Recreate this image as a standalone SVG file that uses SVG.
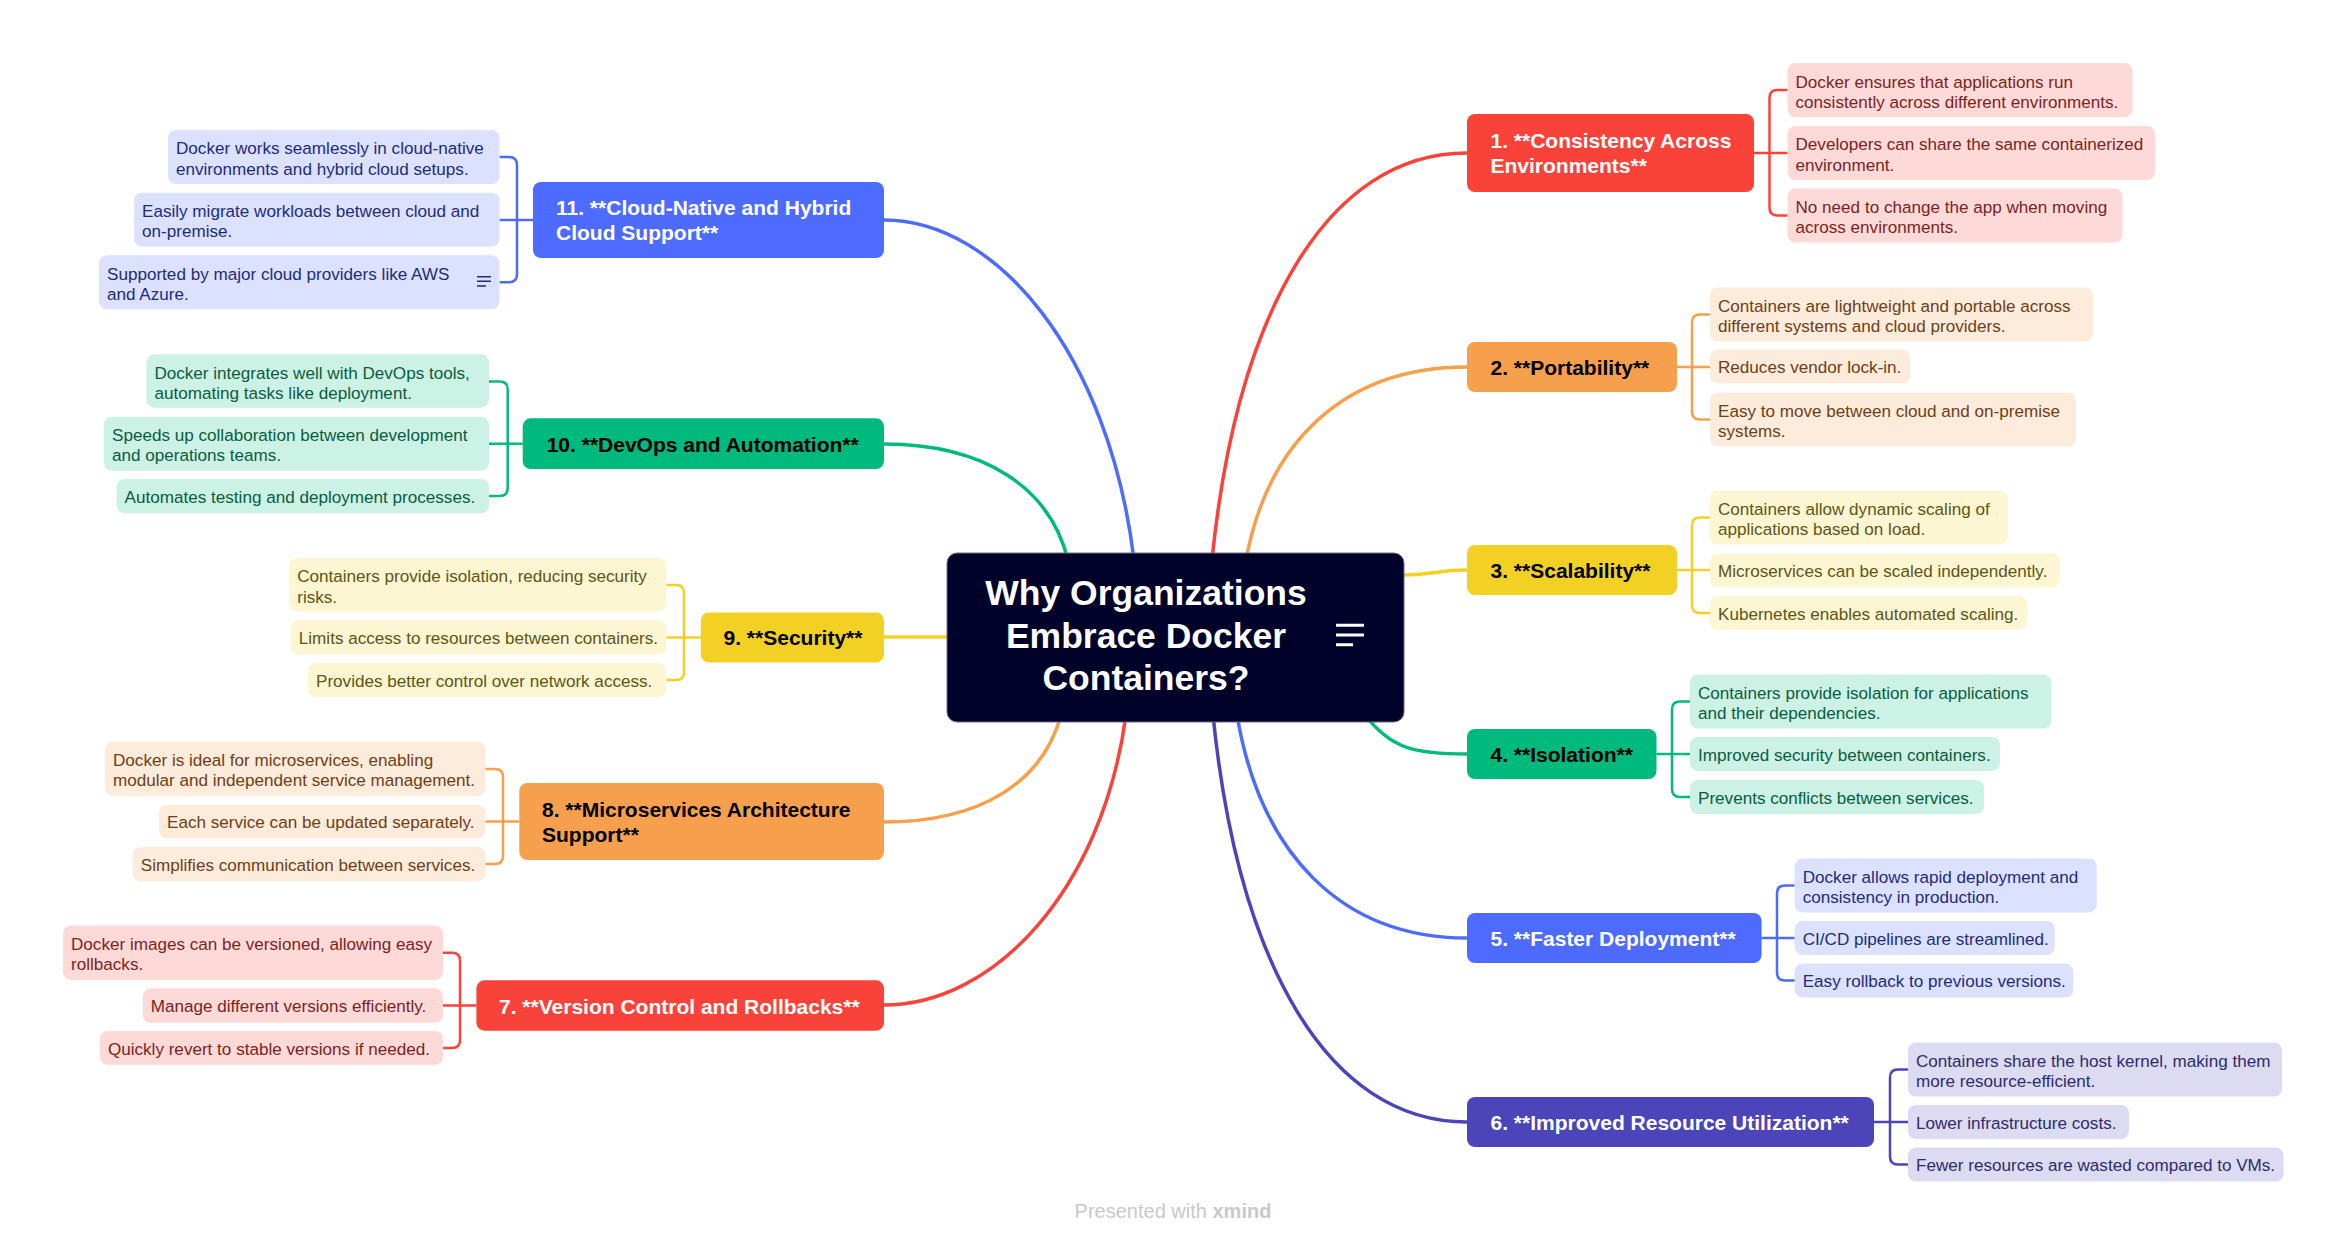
<svg xmlns="http://www.w3.org/2000/svg" width="2347" height="1245" viewBox="0 0 2347 1245">
<style>
.mt{font-family:"Liberation Sans",Arial,sans-serif;font-size:21px;font-weight:bold}
.st{font-family:"Liberation Sans",Arial,sans-serif;font-size:17.1px}
.ct{font-family:"Liberation Sans",Arial,sans-serif;font-size:35.5px;font-weight:bold;fill:#fff;text-anchor:middle}
.ft{font-family:"Liberation Sans",Arial,sans-serif;font-size:20px;fill:#c9c9c9;text-anchor:middle}
.main{fill:none;stroke-width:3.5;stroke-linecap:round}
.br{fill:none;stroke-width:2.5}
.r .n{fill:#F9423A}.r .s{fill:#FDD9D8}.r .st{fill:#7a2522}.r.cn,.r .cn{stroke:#F9423A}
.o .n{fill:#F6A04D}.o .s{fill:#FDEBDB}.o .st{fill:#6e4016}.o.cn,.o .cn{stroke:#F6A04D}
.y .n{fill:#F2D124}.y .s{fill:#FCF6D3}.y .st{fill:#5f5514}.y.cn,.y .cn{stroke:#F2D124}
.g .n{fill:#00B97C}.g .s{fill:#CCF1E5}.g .st{fill:#0a5c3f}.g.cn,.g .cn{stroke:#00B97C}
.b .n{fill:#4D6BFE}.b .s{fill:#DBE1FF}.b .st{fill:#1e2c7c}.b.cn,.b .cn{stroke:#4D6BFE}
.i .n{fill:#4B45B9}.i .s{fill:#DCDBF1}.i .st{fill:#2d2b6b}.i.cn,.i .cn{stroke:#4B45B9}
.w{fill:#fff}.k{fill:#000}
</style>
<rect width="2347" height="1245" fill="#fff"/>
<g id="connectors">
<path class="main r cn" d="M1212,560 C1237,313 1327,153 1467,153"/>
<path class="main o cn" d="M1246,560 C1268,441 1345,367 1467,367"/>
<path class="main y cn" d="M1400,575 C1435,575 1435,570 1467,570"/>
<path class="main g cn" d="M1365,715 C1392,750 1417,754 1467,754"/>
<path class="main b cn" d="M1237,715 C1260,852 1340,938 1467,938"/>
<path class="main i cn" d="M1213,715 C1238,962 1327,1122 1467,1122"/>
<path class="main b cn" d="M1134,560 C1109,353 996,220 884,220"/>
<path class="main g cn" d="M1068,560 C1050,488 985,444 884,444"/>
<path class="main y cn" d="M951,637 H884"/>
<path class="main o cn" d="M1061,715 C1043,782 981,822 884,822"/>
<path class="main r cn" d="M1126,715 C1102,892 993,1005 884,1005"/>
<path class="br r cn" d="M1754,153 H1787.5 M1787.5,90 H1777.5 Q1769.5,90 1769.5,98 V207.5 Q1769.5,215.5 1777.5,215.5 H1787.5"/>
<path class="br o cn" d="M1677,367 H1710 M1710,314.5 H1700 Q1692,314.5 1692,322.5 V411.5 Q1692,419.5 1700,419.5 H1710"/>
<path class="br y cn" d="M1677,570 H1710 M1710,517.5 H1700 Q1692,517.5 1692,525.5 V605 Q1692,613 1700,613 H1710"/>
<path class="br g cn" d="M1656.5,754 H1690 M1690,701.5 H1680 Q1672,701.5 1672,709.5 V789 Q1672,797 1680,797 H1690"/>
<path class="br b cn" d="M1761.6,938 H1794.7 M1794.7,885.4 H1785 Q1777,885.4 1777,893.4 V972.6 Q1777,980.6 1785,980.6 H1794.7"/>
<path class="br i cn" d="M1874,1122 H1908 M1908,1069.5 H1898 Q1890,1069.5 1890,1077.5 V1156.5 Q1890,1164.5 1898,1164.5 H1908"/>
<path class="br b cn" d="M533,220 H499.5 M499.5,157 H509 Q517,157 517,165 V274.3 Q517,282.3 509,282.3 H499.5"/>
<path class="br g cn" d="M522.7,443.7 H489 M489,381.5 H499.7 Q507.7,381.5 507.7,389.5 V488 Q507.7,496 499.7,496 H489"/>
<path class="br y cn" d="M700.8,637.4 H666.3 M666.3,585 H676 Q684,585 684,593 V672 Q684,680 676,680 H666.3"/>
<path class="br o cn" d="M519.3,821.5 H485.3 M485.3,769 H495 Q503,769 503,777 V856 Q503,864 495,864 H485.3"/>
<path class="br r cn" d="M476.4,1005.5 H443 M443,952.7 H452 Q460,952.7 460,960.7 V1039.9 Q460,1047.9 452,1047.9 H443"/>
</g>
<g id="central">
<rect x="947" y="553" width="457" height="169" rx="10" fill="#01022A" stroke="#6b6b85" stroke-width="1"/>
<text class="ct" x="1146" y="605">Why Organizations</text>
<text class="ct" x="1146" y="648">Embrace Docker</text>
<text class="ct" x="1146" y="690">Containers?</text>
<path d="M1336,625.3 H1364 M1336,635 H1364 M1336,644.7 H1353" stroke="#fff" stroke-width="3" fill="none"/>
</g>
<g id="topic1" class="r">
<rect class="n" x="1467" y="114" width="287" height="78" rx="8"/>
<text class="mt w" x="1490.5" y="148">1. **Consistency Across</text>
<text class="mt w" x="1490.5" y="173">Environments**</text>
</g>
<g id="topic1-subs" class="r">
<rect class="s" x="1787.5" y="63" width="345" height="54" rx="8"/>
<text class="st" x="1795.5" y="87.5">Docker ensures that applications run</text>
<text class="st" x="1795.5" y="107.8">consistently across different environments.</text>
<rect class="s" x="1787.5" y="126" width="367.5" height="54" rx="8"/>
<text class="st" x="1795.5" y="150.3">Developers can share the same containerized</text>
<text class="st" x="1795.5" y="170.6">environment.</text>
<rect class="s" x="1787.5" y="188.5" width="335" height="54" rx="8"/>
<text class="st" x="1795.5" y="212.8">No need to change the app when moving</text>
<text class="st" x="1795.5" y="233">across environments.</text>
</g>
<g id="topic2" class="o">
<rect class="n" x="1467" y="342" width="210" height="50" rx="8"/>
<text class="mt k" x="1490.5" y="375">2. **Portability**</text>
</g>
<g id="topic2-subs" class="o">
<rect class="s" x="1710" y="287.5" width="383" height="54" rx="8"/>
<text class="st" x="1718" y="311.8">Containers are lightweight and portable across</text>
<text class="st" x="1718" y="332">different systems and cloud providers.</text>
<rect class="s" x="1710" y="349.5" width="200" height="34" rx="8"/>
<text class="st" x="1718" y="373">Reduces vendor lock-in.</text>
<rect class="s" x="1710" y="392.5" width="366" height="54" rx="8"/>
<text class="st" x="1718" y="416.8">Easy to move between cloud and on-premise</text>
<text class="st" x="1718" y="437">systems.</text>
</g>
<g id="topic3" class="y">
<rect class="n" x="1467" y="545" width="210" height="50" rx="8"/>
<text class="mt k" x="1490.5" y="578">3. **Scalability**</text>
</g>
<g id="topic3-subs" class="y">
<rect class="s" x="1710" y="490.5" width="298" height="54" rx="8"/>
<text class="st" x="1718" y="514.8">Containers allow dynamic scaling of</text>
<text class="st" x="1718" y="535">applications based on load.</text>
<rect class="s" x="1710" y="553.5" width="350" height="34" rx="8"/>
<text class="st" x="1718" y="577">Microservices can be scaled independently.</text>
<rect class="s" x="1710" y="596" width="317" height="34" rx="8"/>
<text class="st" x="1718" y="619.5">Kubernetes enables automated scaling.</text>
</g>
<g id="topic4" class="g">
<rect class="n" x="1467" y="729" width="189.5" height="50" rx="8"/>
<text class="mt k" x="1490.5" y="762">4. **Isolation**</text>
</g>
<g id="topic4-subs" class="g">
<rect class="s" x="1690" y="674.5" width="361.5" height="54" rx="8"/>
<text class="st" x="1698" y="698.8">Containers provide isolation for applications</text>
<text class="st" x="1698" y="719">and their dependencies.</text>
<rect class="s" x="1690" y="737" width="310" height="34" rx="8"/>
<text class="st" x="1698" y="760.5">Improved security between containers.</text>
<rect class="s" x="1690" y="780" width="294" height="34" rx="8"/>
<text class="st" x="1698" y="803.5">Prevents conflicts between services.</text>
</g>
<g id="topic5" class="b">
<rect class="n" x="1467" y="913" width="294.6" height="50" rx="8"/>
<text class="mt w" x="1490.5" y="946">5. **Faster Deployment**</text>
</g>
<g id="topic5-subs" class="b">
<rect class="s" x="1794.7" y="858.4" width="302" height="54" rx="8"/>
<text class="st" x="1802.7" y="882.7">Docker allows rapid deployment and</text>
<text class="st" x="1802.7" y="903">consistency in production.</text>
<rect class="s" x="1794.7" y="921" width="260" height="34" rx="8"/>
<text class="st" x="1802.7" y="944.5">CI/CD pipelines are streamlined.</text>
<rect class="s" x="1794.7" y="963.6" width="278.6" height="34" rx="8"/>
<text class="st" x="1802.7" y="987">Easy rollback to previous versions.</text>
</g>
<g id="topic6" class="i">
<rect class="n" x="1467" y="1097" width="407" height="50" rx="8"/>
<text class="mt w" x="1490.5" y="1130">6. **Improved Resource Utilization**</text>
</g>
<g id="topic6-subs" class="i">
<rect class="s" x="1908" y="1042.5" width="374" height="54" rx="8"/>
<text class="st" x="1916" y="1066.8">Containers share the host kernel, making them</text>
<text class="st" x="1916" y="1087">more resource-efficient.</text>
<rect class="s" x="1908" y="1105" width="221" height="34" rx="8"/>
<text class="st" x="1916" y="1128.5">Lower infrastructure costs.</text>
<rect class="s" x="1908" y="1147.5" width="375.6" height="34" rx="8"/>
<text class="st" x="1916" y="1171">Fewer resources are wasted compared to VMs.</text>
</g>
<g id="topic11" class="b">
<rect class="n" x="533" y="182" width="351" height="76" rx="8"/>
<text class="mt w" x="556" y="215">11. **Cloud-Native and Hybrid</text>
<text class="mt w" x="556" y="240">Cloud Support**</text>
</g>
<g id="topic11-subs" class="b">
<rect class="s" x="168" y="130" width="331.5" height="54" rx="8"/>
<text class="st" x="176" y="154.3">Docker works seamlessly in cloud-native</text>
<text class="st" x="176" y="174.6">environments and hybrid cloud setups.</text>
<rect class="s" x="134" y="192.7" width="365.5" height="54" rx="8"/>
<text class="st" x="142" y="217">Easily migrate workloads between cloud and</text>
<text class="st" x="142" y="237.3">on-premise.</text>
<rect class="s" x="99" y="255.3" width="400.5" height="54" rx="8"/>
<text class="st" x="107" y="279.6">Supported by major cloud providers like AWS</text>
<text class="st" x="107" y="300">and Azure.</text>
<path d="M477,276.7 H491 M477,281.3 H491 M477,286 H486" stroke="#1e2c7c" stroke-width="1.5" fill="none"/>
</g>
<g id="topic10" class="g">
<rect class="n" x="522.7" y="418.3" width="361.3" height="50.7" rx="8"/>
<text class="mt k" x="546.7" y="451.7">10. **DevOps and Automation**</text>
</g>
<g id="topic10-subs" class="g">
<rect class="s" x="146.4" y="354.3" width="342.6" height="53.4" rx="8"/>
<text class="st" x="154.4" y="378.6">Docker integrates well with DevOps tools,</text>
<text class="st" x="154.4" y="398.9">automating tasks like deployment.</text>
<rect class="s" x="104" y="416.7" width="385" height="54" rx="8"/>
<text class="st" x="112" y="441">Speeds up collaboration between development</text>
<text class="st" x="112" y="461.3">and operations teams.</text>
<rect class="s" x="116.6" y="479" width="372.4" height="34.3" rx="8"/>
<text class="st" x="124.6" y="502.5">Automates testing and deployment processes.</text>
</g>
<g id="topic9" class="y">
<rect class="n" x="700.8" y="612.4" width="183.2" height="50" rx="8"/>
<text class="mt k" x="723.5" y="645.4">9. **Security**</text>
</g>
<g id="topic9-subs" class="y">
<rect class="s" x="289.2" y="558" width="377" height="53.7" rx="8"/>
<text class="st" x="297.2" y="582.3">Containers provide isolation, reducing security</text>
<text class="st" x="297.2" y="602.6">risks.</text>
<rect class="s" x="290.8" y="620.3" width="375.5" height="34.2" rx="8"/>
<text class="st" x="298.8" y="643.8">Limits access to resources between containers.</text>
<rect class="s" x="308" y="663" width="358.3" height="34" rx="8"/>
<text class="st" x="316" y="686.5">Provides better control over network access.</text>
</g>
<g id="topic8" class="o">
<rect class="n" x="519.3" y="783" width="364.7" height="77" rx="8"/>
<text class="mt k" x="542" y="817">8. **Microservices Architecture</text>
<text class="mt k" x="542" y="842">Support**</text>
</g>
<g id="topic8-subs" class="o">
<rect class="s" x="105" y="741.7" width="380.3" height="54.5" rx="8"/>
<text class="st" x="113" y="766">Docker is ideal for microservices, enabling</text>
<text class="st" x="113" y="786.3">modular and independent service management.</text>
<rect class="s" x="159" y="804.8" width="326.3" height="33.8" rx="8"/>
<text class="st" x="167" y="828.3">Each service can be updated separately.</text>
<rect class="s" x="132.8" y="847" width="352.5" height="34.4" rx="8"/>
<text class="st" x="140.8" y="870.5">Simplifies communication between services.</text>
</g>
<g id="topic7" class="r">
<rect class="n" x="476.4" y="980.3" width="407.6" height="50.4" rx="8"/>
<text class="mt w" x="499" y="1013.5">7. **Version Control and Rollbacks**</text>
</g>
<g id="topic7-subs" class="r">
<rect class="s" x="63" y="925.5" width="380" height="54.5" rx="8"/>
<text class="st" x="71" y="949.8">Docker images can be versioned, allowing easy</text>
<text class="st" x="71" y="970">rollbacks.</text>
<rect class="s" x="142.8" y="988.3" width="300.2" height="34.5" rx="8"/>
<text class="st" x="150.8" y="1011.8">Manage different versions efficiently.</text>
<rect class="s" x="99.9" y="1031" width="343.1" height="33.8" rx="8"/>
<text class="st" x="107.9" y="1054.5">Quickly revert to stable versions if needed.</text>
</g>
<g id="footer">
<text class="ft" x="1173" y="1218">Presented with <tspan font-weight="bold">xmind</tspan></text>
</g>
</svg>
